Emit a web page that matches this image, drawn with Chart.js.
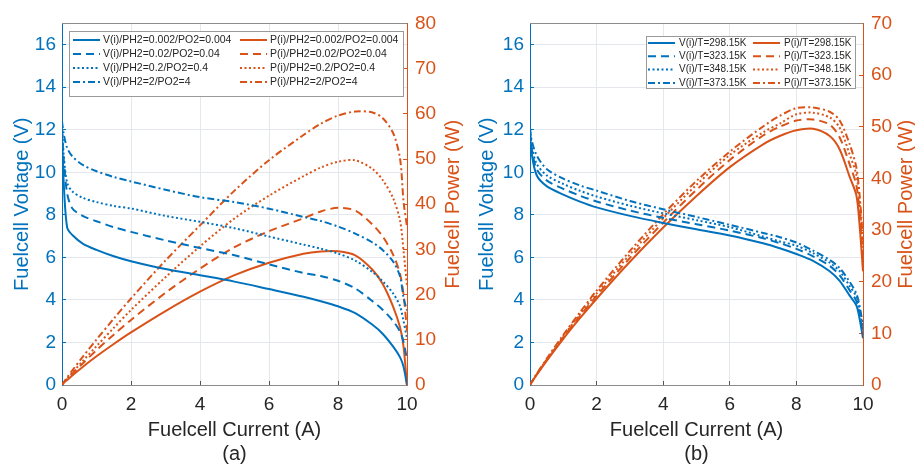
<!DOCTYPE html>
<html>
<head>
<meta charset="utf-8">
<script src="https://cdn.jsdelivr.net/npm/chart.js@4.4.0/dist/chart.umd.min.js"></script>
<style>
  html, body { margin: 0; padding: 0; background: #fff; }
  #wrap { position: relative; width: 915px; height: 467px; }
  #wrap canvas { position: absolute; top: 0; }
  #chartA { left: 0; }
  #chartB { left: 468px; }
</style>
</head>
<body>
<div id="wrap">
  <canvas id="chartA" width="468" height="467"></canvas>
  <canvas id="chartB" width="447" height="467"></canvas>
</div>
<script>
// ── Data ─────────────────────────────────────────────────────
// (a) pressure sweep
const currentA = [0, 0.05, 0.15, 0.3, 0.6, 1, 1.5, 2, 3, 4, 5, 6, 7, 7.5, 8, 8.5, 9, 9.3, 9.6, 9.8, 9.9, 10];
const pressureLabels = ['PH2=0.002/PO2=0.004', 'PH2=0.02/PO2=0.04', 'PH2=0.2/PO2=0.4', 'PH2=2/PO2=4'];
const voltA1 = [11.8, 9.5, 7.4, 7.05, 6.65, 6.35, 6.05, 5.82, 5.45, 5.16, 4.86, 4.51, 4.15, 3.94, 3.7, 3.38, 2.83, 2.4, 1.8, 1.3, 0.86, 0];
const voltA2 = [12.0, 10.6, 9.0, 8.3, 7.95, 7.7, 7.42, 7.2, 6.8, 6.44, 6.1, 5.67, 5.27, 5.12, 4.9, 4.54, 3.94, 3.53, 3.0, 2.5, 2.02, 1.2];
const voltA3 = [12.2, 10.8, 9.5, 9.1, 8.8, 8.6, 8.42, 8.3, 7.95, 7.67, 7.37, 6.98, 6.6, 6.41, 6.18, 5.85, 5.31, 4.87, 4.3, 3.7, 3.0, 2.2];
const voltA4 = [12.4, 11.8, 11.15, 10.75, 10.35, 10.05, 9.78, 9.57, 9.18, 8.83, 8.6, 8.29, 7.9, 7.71, 7.45, 7.12, 6.7, 6.34, 5.8, 5.1, 4.1, 3.5];
const powerA1 = [0, 0.48, 1.11, 2.12, 3.99, 6.35, 9.08, 11.64, 16.35, 20.64, 24.3, 27.06, 29.05, 29.55, 29.6, 28.7, 25.5, 22.3, 17.3, 12.7, 8.5, 0];
const powerA2 = [0, 0.53, 1.35, 2.49, 4.77, 7.7, 11.13, 14.4, 20.4, 25.76, 30.5, 34.02, 36.9, 38.4, 39.2, 38.6, 35.5, 32.8, 28.8, 24.5, 20.0, 12.0];
const powerA3 = [0, 0.54, 1.43, 2.73, 5.28, 8.6, 12.63, 16.6, 23.85, 30.68, 36.85, 41.88, 46.2, 48.1, 49.4, 49.7, 47.8, 45.3, 41.3, 36.3, 29.7, 22.0];
const powerA4 = [0, 0.59, 1.67, 3.23, 6.21, 10.05, 14.67, 19.14, 27.54, 35.32, 43.0, 49.74, 55.3, 57.8, 59.6, 60.5, 60.3, 59.0, 55.7, 50.0, 40.6, 35.0];

// (b) temperature sweep
const currentB = [0, 0.05, 0.2, 0.5, 1, 1.5, 2, 3, 4, 5, 6, 7, 7.5, 8, 8.5, 9, 9.3, 9.6, 9.8, 9.9, 10];
const tempLabels = ['T=298.15K', 'T=323.15K', 'T=348.15K', 'T=373.15K'];
const voltB1 = [11.9, 10.9, 9.86, 9.35, 8.95, 8.62, 8.35, 7.95, 7.62, 7.32, 7.03, 6.66, 6.43, 6.16, 5.84, 5.35, 4.9, 4.2, 3.75, 3.1, 2.2];
const voltB2 = [11.9, 11.1, 10.15, 9.62, 9.22, 8.9, 8.63, 8.2, 7.86, 7.56, 7.26, 6.9, 6.67, 6.4, 6.05, 5.6, 5.15, 4.45, 3.95, 3.35, 2.4];
const voltB3 = [12.0, 11.25, 10.4, 9.86, 9.45, 9.13, 8.86, 8.43, 8.07, 7.75, 7.42, 6.98, 6.75, 6.55, 6.2, 5.75, 5.35, 4.65, 4.15, 3.55, 2.6];
const voltB4 = [12.1, 11.5, 10.8, 10.15, 9.7, 9.38, 9.14, 8.65, 8.26, 7.9, 7.53, 7.15, 6.95, 6.7, 6.32, 5.88, 5.5, 4.85, 4.3, 3.7, 2.8];
const powerB1 = [0, 0.55, 1.97, 4.68, 8.95, 12.93, 16.7, 23.85, 30.48, 36.6, 42.18, 46.6, 48.2, 49.3, 49.6, 48.2, 45.6, 40.3, 36.75, 30.7, 22.0];
const powerB2 = [0, 0.56, 2.03, 4.81, 9.22, 13.35, 17.26, 24.6, 31.44, 37.8, 43.56, 48.3, 50.0, 51.2, 51.4, 50.4, 47.9, 42.7, 38.7, 33.2, 24.0];
const powerB3 = [0, 0.56, 2.08, 4.93, 9.45, 13.7, 17.72, 25.29, 32.28, 38.75, 44.52, 48.9, 50.6, 52.4, 52.7, 51.8, 49.8, 44.6, 40.7, 35.1, 26.0];
const powerB4 = [0, 0.58, 2.16, 5.08, 9.7, 14.07, 18.28, 25.95, 33.04, 39.5, 45.18, 50.05, 52.1, 53.6, 53.7, 52.9, 51.2, 46.6, 42.1, 36.6, 28.0];

const currentTicks = [0, 2, 4, 6, 8, 10];

// ── Styling ──────────────────────────────────────────────────
const blue = '#0072BD';
const orange = '#D95319';
const gridColor = '#e4e7eb';
const textColor = '#262626';
const fontFamily = '"Liberation Sans", Arial, Helvetica, sans-serif';
const dashStyles = [[], [8, 5], [2, 2.5], [7, 3, 2, 3]];

// MATLAB-style boxed legend, two columns (V left, P right)
const boxLegend = {
  id: 'boxLegend',
  afterDatasetsDraw(chart, args, o) {
    const { ctx, chartArea: a } = chart;
    const x0 = Math.round(a.left + o.x), y0 = Math.round(a.top + o.y);
    ctx.save();
    ctx.fillStyle = '#fff';
    ctx.fillRect(x0, y0, o.w, o.h);
    ctx.strokeStyle = o.borderColor;
    ctx.lineWidth = 1;
    ctx.strokeRect(x0 + 0.5, y0 + 0.5, o.w, o.h);
    ctx.font = o.font;
    ctx.textBaseline = 'middle';
    const ds = chart.data.datasets;
    const rows = Math.ceil(ds.length / 2);
    ds.forEach((d, i) => {
      const col = Math.floor(i / rows), row = i % rows;
      const cx = x0 + o.colX[col];
      const cy = y0 + o.firstRow + row * o.rowGap;
      ctx.strokeStyle = d.borderColor;
      ctx.lineWidth = d.borderWidth;
      ctx.setLineDash(d.borderDash || []);
      ctx.beginPath(); ctx.moveTo(cx, cy); ctx.lineTo(cx + o.sample, cy); ctx.stroke();
      ctx.setLineDash([]);
      ctx.fillStyle = textColor;
      ctx.fillText(d.label, cx + o.sample + o.gap, cy);
    });
    ctx.restore();
  }
};

// top edge of the axes box + side titles reading bottom-to-top on both sides
const frameTitles = {
  id: 'frameTitles',
  afterDraw(chart, args, o) {
    const { ctx, chartArea: a } = chart;
    ctx.save();
    ctx.strokeStyle = o.boxColor;
    ctx.lineWidth = 1;
    ctx.beginPath();
    ctx.moveTo(a.left, Math.round(a.top) + 0.5);
    ctx.lineTo(a.right, Math.round(a.top) + 0.5);
    ctx.stroke();
    ctx.font = o.font;
    ctx.textAlign = 'center';
    ctx.textBaseline = 'middle';
    o.titles.forEach(t => {
      ctx.save();
      ctx.translate(t.x, (a.top + a.bottom) / 2);
      ctx.rotate(-Math.PI / 2);
      ctx.fillStyle = t.color;
      ctx.fillText(t.text, 0, 0);
      ctx.restore();
    });
    ctx.restore();
  }
};

function series(xs, ys, label, color, styleIdx, axis) {
  return {
    label,
    data: xs.map((x, i) => ({ x, y: ys[i] })),
    yAxisID: axis,
    borderColor: color,
    backgroundColor: color,
    borderWidth: 2,
    borderDash: dashStyles[styleIdx],
    pointRadius: 0,
    fill: false,
    tension: 0.3,
  };
}

function renderFuelcellChart(canvasId, cfg) {
  const ctx = document.getElementById(canvasId);
  const datasets = [];
  cfg.volts.forEach((v, i) => datasets.push(series(cfg.current, v, `V(i)/${cfg.labels[i]}`, blue, i, 'yV')));
  cfg.powers.forEach((p, i) => datasets.push(series(cfg.current, p, `P(i)/${cfg.labels[i]}`, orange, i, 'yP')));

  return new Chart(ctx, {
    type: 'line',
    data: { datasets },
    plugins: [boxLegend, frameTitles],
    options: {
      responsive: false,
      animation: false,
      layout: { padding: { top: 17, left: 0, right: 0, bottom: 0 } },
      plugins: {
        legend: { display: false },
        tooltip: { enabled: false },
        boxLegend: cfg.legend,
        frameTitles: {
          boxColor: '#8c8c8c',
          font: `20px ${fontFamily}`,
          titles: [
            { text: 'Fuelcell Voltage (V)', color: blue, x: cfg.leftTitleX },
            { text: 'Fuelcell Power (W)', color: orange, x: cfg.rightTitleX },
          ],
        },
      },
      scales: {
        x: {
          type: 'linear',
          min: 0, max: 10,
          afterBuildTicks: s => { s.ticks = currentTicks.map(v => ({ value: v })); },
          afterFit: s => { s.height = 82; },
          grid: { color: gridColor, tickColor: '#555', tickLength: -4 },
          border: { color: '#8c8c8c' },
          ticks: { color: textColor, font: { size: 19, family: fontFamily }, padding: 12, maxRotation: 0 },
          title: {
            display: true,
            text: ['Fuelcell Current (A)', cfg.caption],
            color: textColor,
            font: { size: 20, family: fontFamily, lineHeight: 1.2 },
            padding: { top: 0, bottom: 1 },
          },
        },
        yV: {
          position: 'left',
          min: 0, max: 17,
          afterFit: s => { s.width = cfg.leftWidth; },
          grid: { color: gridColor, tickColor: blue, tickLength: -4 },
          border: { color: blue },
          ticks: { stepSize: 2, includeBounds: false, color: blue, font: { size: 19, family: fontFamily }, padding: 10 },
        },
        yP: {
          position: 'right',
          min: 0, max: cfg.powerMax,
          afterFit: s => { s.width = cfg.rightWidth; },
          grid: { drawOnChartArea: false, tickColor: orange, tickLength: -4 },
          border: { color: orange },
          ticks: { stepSize: 10, color: orange, font: { size: 19, family: fontFamily }, padding: 12 },
        },
      },
    },
  });
}

renderFuelcellChart('chartA', {
  current: currentA,
  labels: pressureLabels,
  volts: [voltA1, voltA2, voltA3, voltA4],
  powers: [powerA1, powerA2, powerA3, powerA4],
  powerMax: 80,
  caption: '(a)',
  leftWidth: 62, rightWidth: 61,
  leftTitleX: 22, rightTitleX: 453,
  legend: {
    x: 7, y: 8, w: 334, h: 65,
    firstRow: 9, rowGap: 14, colX: [4, 171], sample: 27, gap: 3,
    font: `10.5px ${fontFamily}`, borderColor: '#9a9a9a',
  },
});

renderFuelcellChart('chartB', {
  current: currentB,
  labels: tempLabels,
  volts: [voltB1, voltB2, voltB3, voltB4],
  powers: [powerB1, powerB2, powerB3, powerB4],
  powerMax: 70,
  caption: '(b)',
  leftWidth: 62, rightWidth: 52,
  leftTitleX: 19, rightTitleX: 438,
  legend: {
    x: 116, y: 13, w: 209, h: 52,
    firstRow: 7, rowGap: 13.3, colX: [2, 107], sample: 27, gap: 4,
    font: `10px ${fontFamily}`, borderColor: '#9a9a9a',
  },
});
</script>
</body>
</html>
